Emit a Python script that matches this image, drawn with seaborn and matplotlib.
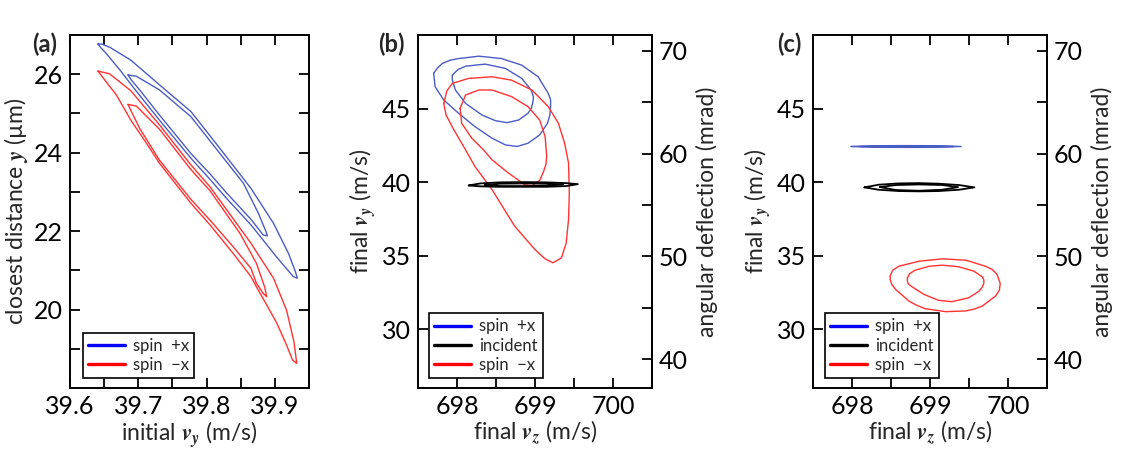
import numpy as np
import pandas as pd
import matplotlib
matplotlib.use("Agg")
import matplotlib.pyplot as plt
from matplotlib.lines import Line2D
import seaborn as sns

# ---------------- data ----------------
# panel (a): initial v_y (m/s) vs closest distance y (um)
a_blue_outer_x = [39.641, 39.646, 39.658, 39.689, 39.731, 39.777, 39.815, 39.865, 39.898, 39.920, 39.930, 39.933,
                  39.927, 39.903, 39.865, 39.829, 39.805, 39.777, 39.731, 39.692, 39.685, 39.673, 39.653, 39.644]
a_blue_outer_y = [26.77, 26.77, 26.69, 26.36, 25.73, 25.05, 24.21, 23.09, 22.20, 21.43, 20.97, 20.80,
                  20.84, 21.33, 22.16, 22.84, 23.32, 23.86, 24.83, 25.68, 25.84, 26.11, 26.53, 26.70]
a_blue_inner_x = [39.685, 39.697, 39.731, 39.777, 39.815, 39.854, 39.876, 39.887, 39.889,
                  39.883, 39.865, 39.829, 39.805, 39.777, 39.731, 39.702, 39.690]
a_blue_inner_y = [25.98, 25.95, 25.60, 24.92, 24.08, 23.22, 22.45, 21.99, 21.88,
                  21.90, 22.30, 22.98, 23.46, 23.98, 24.96, 25.60, 25.85]
a_red_outer_x = [39.641, 39.658, 39.689, 39.731, 39.777, 39.805, 39.865, 39.898, 39.917, 39.928, 39.932,
                 39.926, 39.917, 39.903, 39.888, 39.873, 39.865, 39.839, 39.805, 39.777, 39.731, 39.712,
                 39.689, 39.668, 39.651]
a_red_outer_y = [26.08, 26.01, 25.58, 24.71, 23.69, 23.13, 21.69, 20.80, 19.99, 19.18, 18.63,
                 18.71, 19.10, 19.65, 20.12, 20.58, 20.84, 21.43, 22.16, 22.71, 23.73, 24.24,
                 24.83, 25.47, 25.85]
a_red_inner_x = [39.685, 39.697, 39.731, 39.777, 39.805, 39.849, 39.873, 39.885, 39.888,
                 39.883, 39.873, 39.865, 39.839, 39.805, 39.777, 39.731, 39.702, 39.689]
a_red_inner_y = [25.23, 25.19, 24.60, 23.57, 23.03, 21.94, 21.18, 20.58, 20.33,
                 20.41, 20.67, 21.05, 21.60, 22.28, 22.81, 23.81, 24.62, 25.08]

# panel (b): final v_z vs final v_y (m/s)
b_blue_outer_x = [697.70, 697.75, 697.81, 697.91, 698.02, 698.28, 698.57, 698.83, 699.04, 699.17, 699.20,
                  699.20, 699.19, 699.16, 699.06, 698.91, 698.77, 698.62, 698.45, 698.23, 698.02, 697.83, 697.72]
b_blue_outer_y = [47.39, 47.76, 48.06, 48.28, 48.40, 48.56, 48.40, 47.95, 47.16, 46.03, 45.60,
                  45.13, 44.55, 44.00, 43.21, 42.64, 42.42, 42.53, 42.98, 43.77, 44.68, 45.58, 46.48]
b_blue_inner_x = [697.94, 698.01, 698.11, 698.36, 698.62, 698.83, 698.95, 698.98, 698.97, 698.95, 698.91,
                  698.79, 698.64, 698.49, 698.32, 698.11, 697.98, 697.94]
b_blue_inner_y = [47.27, 47.64, 47.88, 48.02, 47.73, 47.05, 46.26, 45.80, 45.35, 44.98, 44.68,
                  44.22, 44.04, 44.18, 44.56, 45.35, 46.26, 46.93]
b_red_outer_x = [697.83, 697.87, 697.94, 698.15, 698.45, 698.70, 698.96, 699.17, 699.30, 699.38, 699.43,
                 699.44, 699.43, 699.40, 699.34, 699.23, 699.13, 699.00, 698.74, 698.45, 698.23,
                 698.11, 697.96, 697.86]
b_red_outer_y = [45.35, 46.20, 46.71, 47.05, 47.16, 46.93, 46.26, 45.13, 44.00, 42.64, 41.29,
                 39.25, 37.45, 35.87, 34.85, 34.51, 34.78, 35.41, 37.00, 39.48, 41.06,
                 42.19, 43.55, 44.56]
b_red_inner_x = [698.04, 698.11, 698.28, 698.45, 698.70, 698.91, 699.06, 699.13, 699.15, 699.14, 699.11,
                 699.06, 698.96, 698.87, 698.66, 698.45, 698.34, 698.19, 698.06]
b_red_inner_y = [45.01, 45.92, 46.26, 46.26, 45.81, 45.13, 44.22, 43.09, 41.74, 41.20, 40.72,
                 40.11, 39.75, 39.82, 40.61, 41.51, 42.19, 42.98, 44.00]
b_inc_outer_x = [698.15, 698.30, 698.55, 698.85, 699.15, 699.40, 699.55, 699.40, 699.15, 698.85, 698.55, 698.30]
b_inc_outer_y = [39.77, 39.91, 39.98, 40.00, 39.98, 39.93, 39.86, 39.73, 39.68, 39.68, 39.68, 39.71]
b_inc_inner_x = [698.36, 698.55, 698.85, 699.15, 699.36, 699.15, 698.85, 698.55]
b_inc_inner_y = [39.80, 39.89, 39.91, 39.89, 39.84, 39.75, 39.73, 39.73]

# panel (c)
c_blue_outer_x = [697.99, 698.26, 698.69, 699.11, 699.40, 699.11, 698.69, 698.26]
c_blue_outer_y = [42.42, 42.47, 42.48, 42.47, 42.42, 42.37, 42.36, 42.37]
c_blue_inner_x = [698.10, 698.40, 698.70, 699.00, 699.30, 699.00, 698.70, 698.40]
c_blue_inner_y = [42.42, 42.45, 42.46, 42.45, 42.42, 42.39, 42.38, 42.39]
c_inc_outer_x = [698.16, 698.34, 698.60, 698.86, 699.11, 699.37, 699.57, 699.37, 699.11, 698.86, 698.60, 698.34]
c_inc_outer_y = [39.64, 39.82, 39.91, 39.93, 39.89, 39.80, 39.64, 39.48, 39.39, 39.37, 39.39, 39.48]
c_inc_inner_x = [698.36, 698.56, 698.86, 699.16, 699.36, 699.16, 698.86, 698.56]
c_inc_inner_y = [39.66, 39.80, 39.84, 39.80, 39.66, 39.48, 39.41, 39.46]
c_red_outer_x = [698.49, 698.52, 698.60, 698.86, 699.16, 699.46, 699.71, 699.80, 699.86, 699.90, 699.89, 699.84,
                 699.67, 699.57, 699.46, 699.20, 698.94, 698.83, 698.73, 698.56, 698.51, 698.49]
c_red_outer_y = [33.61, 34.00, 34.28, 34.62, 34.78, 34.69, 34.28, 34.05, 33.72, 33.11, 32.65, 32.25,
                 31.57, 31.37, 31.24, 31.19, 31.39, 31.62, 31.91, 32.70, 33.05, 33.38]
c_red_inner_x = [698.71, 698.74, 698.81, 698.99, 699.16, 699.37, 699.56, 699.67, 699.69, 699.69, 699.67,
                 699.63, 699.50, 699.28, 699.11, 698.92, 698.77, 698.72, 698.71]
c_red_inner_y = [33.49, 33.78, 34.01, 34.28, 34.35, 34.24, 33.95, 33.56, 33.35, 33.11, 32.85,
                 32.59, 32.14, 31.87, 31.96, 32.37, 32.88, 33.08, 33.27]

legend_labels = ["spin  +x", "incident", "spin  \u2212x"]
panel_labels = ["(a)", "(b)", "(c)"]

# ---------------- styling ----------------
sns.set_style("ticks")
plt.rcParams["font.family"] = ["Lato", "DejaVu Sans"]
plt.rcParams["mathtext.fontset"] = "stix"
plt.rcParams["axes.linewidth"] = 1.4

line_col = {"blue": "#4b5cc4", "black": "#000000", "red": "#ff3333"}
leg_col = {"blue": "#0000ff", "black": "#000000", "red": "#ff0000"}


def make_df(contours):
    rows = []
    for i, (xs, ys, series) in enumerate(contours):
        xs = list(xs) + [xs[0]]
        ys = list(ys) + [ys[0]]
        for k, (xv, yv) in enumerate(zip(xs, ys)):
            rows.append({"x": xv, "y": yv, "cid": i, "series": series, "order": k})
    return pd.DataFrame(rows)


fig = plt.figure(figsize=(11.23, 4.73), dpi=100)
W, H = 1123, 473
ax_a = fig.add_axes([70 / W, 1 - 388 / H, 239 / W, 353 / H])
ax_b = fig.add_axes([418 / W, 1 - 388 / H, 234 / W, 353 / H])
ax_c = fig.add_axes([813 / W, 1 - 388 / H, 234 / W, 353 / H])

panels = [
    (ax_a, [(a_blue_outer_x, a_blue_outer_y, "blue"), (a_blue_inner_x, a_blue_inner_y, "blue"),
            (a_red_outer_x, a_red_outer_y, "red"), (a_red_inner_x, a_red_inner_y, "red")]),
    (ax_b, [(b_blue_outer_x, b_blue_outer_y, "blue"), (b_blue_inner_x, b_blue_inner_y, "blue"),
            (b_red_outer_x, b_red_outer_y, "red"), (b_red_inner_x, b_red_inner_y, "red"),
            (b_inc_outer_x, b_inc_outer_y, "black"), (b_inc_inner_x, b_inc_inner_y, "black")]),
    (ax_c, [(c_blue_outer_x, c_blue_outer_y, "blue"), (c_blue_inner_x, c_blue_inner_y, "blue"),
            (c_red_outer_x, c_red_outer_y, "red"), (c_red_inner_x, c_red_inner_y, "red"),
            (c_inc_outer_x, c_inc_outer_y, "black"), (c_inc_inner_x, c_inc_inner_y, "black")]),
]

for ax, contours in panels:
    df = make_df(contours)
    for series in ["blue", "red", "black"]:
        sub = df[df["series"] == series]
        if len(sub) == 0:
            continue
        sns.lineplot(data=sub, x="x", y="y", units="cid", estimator=None, sort=False,
                     color=line_col[series], lw=1.3 if series == "black" else 1.0,
                     legend=False, ax=ax)
    ax.set_xlabel("")
    ax.set_ylabel("")

tick_kw = dict(direction="in", length=7, width=1.3, labelsize=18, pad=5, colors="black")
lab_fs = 16.5

# panel a
ax_a.set_xlim(39.6, 39.95)
ax_a.set_ylim(18, 27)
ax_a.set_xticks([39.6, 39.7, 39.8, 39.9])
ax_a.set_xticks([39.65, 39.75, 39.85], minor=True)
ax_a.set_yticks([20, 22, 24, 26])
ax_a.set_yticks([19, 21, 23, 25], minor=True)
ax_a.tick_params(which="both", top=True, right=True, **tick_kw)
ax_a.set_xlabel(r"initial $\boldsymbol{v}_{\boldsymbol{y}}$ (m/s)", fontsize=lab_fs, labelpad=1)
ax_a.set_ylabel("closest distance " + r"$\boldsymbol{y}$" + " (\u00b5m)", fontsize=lab_fs, labelpad=3)

for ax in (ax_b, ax_c):
    ax.set_xlim(697.5, 700.5)
    ax.set_ylim(26, 50)
    ax.set_xticks([698, 699, 700])
    ax.set_xticks([698.5, 699.5], minor=True)
    ax.set_yticks([30, 35, 40, 45])
    ax.tick_params(which="both", top=True, right=False, **tick_kw)
    ax.set_xlabel(r"final $\boldsymbol{v}_{\boldsymbol{z}}$ (m/s)", fontsize=lab_fs, labelpad=1)
    ax.set_ylabel(r"final $\boldsymbol{v}_{\boldsymbol{y}}$ (m/s)", fontsize=lab_fs, labelpad=3)
    sec = ax.secondary_yaxis("right", functions=(lambda v: v / 0.699, lambda m: m * 0.699))
    sec.set_yticks([40, 50, 60, 70])
    sec.set_yticks([45, 55, 65], minor=True)
    sec.tick_params(which="both", **tick_kw)
    sec.set_ylabel("angular deflection (mrad)", fontsize=lab_fs, labelpad=6)

for ax in (ax_a, ax_b, ax_c):
    for sp in ax.spines.values():
        sp.set_visible(True)
        sp.set_color("black")
        sp.set_linewidth(1.4)

# legends
leg_pos = {ax_a: (13 / 239, 10 / 353), ax_b: (11 / 234, 10 / 353), ax_c: (12 / 234, 10 / 353)}
for ax, keys in [(ax_a, ["blue", "red"]), (ax_b, ["blue", "black", "red"]), (ax_c, ["blue", "black", "red"])]:
    lab = {"blue": legend_labels[0], "black": legend_labels[1], "red": legend_labels[2]}
    handles = [Line2D([0], [0], color=leg_col[k], lw=2.4) for k in keys]
    leg = ax.legend(handles, [lab[k] for k in keys], loc="lower left", bbox_to_anchor=leg_pos[ax],
                    borderaxespad=0, frameon=True, fancybox=False, framealpha=1, edgecolor="black",
                    fontsize=12, handlelength=2.2, handletextpad=0.5, borderpad=0.3, labelspacing=0.2)
    leg.get_frame().set_linewidth(1.2)

for lbl, xpx in zip(panel_labels, [32, 378, 777]):
    fig.text(xpx / W, 1 - 33 / H, lbl, fontsize=17, fontweight="bold", va="top", ha="left")

fig.savefig("out.png", dpi=100)
